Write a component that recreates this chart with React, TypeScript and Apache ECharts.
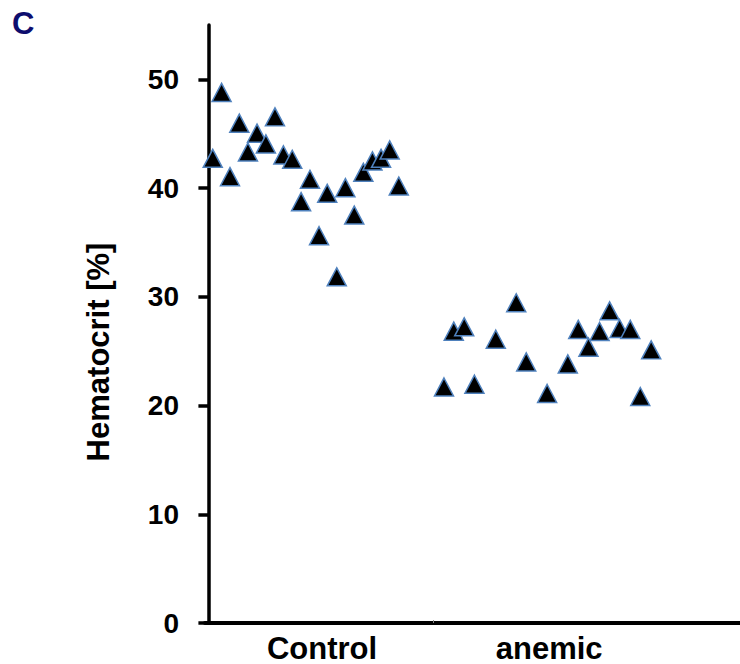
import React, { useEffect, useRef } from "react";
import * as echarts from "echarts";

const categories = ["Control", "anemic"];
const yTicks = [0, 10, 20, 30, 40, 50];
const yAxisTitle = "Hematocrit [%]";
const panelLabel = "C";

// x = position along the axis (category centers at 0.5 and 1.5), y = hematocrit [%]
const controlX = [0.019, 0.058, 0.095, 0.136, 0.174, 0.214, 0.253, 0.293, 0.330, 0.369, 0.408, 0.447, 0.487, 0.523, 0.565, 0.603, 0.642, 0.682, 0.722, 0.760, 0.798, 0.838];
const controlY = [42.74, 48.8, 41.05, 45.97, 43.32, 45.05, 44.06, 46.55, 43.05, 42.65, 38.75, 40.81, 35.62, 39.52, 31.84, 40.04, 37.52, 41.45, 42.5, 42.74, 43.51, 40.19];

const anemicX = [1.037, 1.080, 1.126, 1.171, 1.265, 1.355, 1.399, 1.491, 1.582, 1.628, 1.673, 1.722, 1.766, 1.810, 1.857, 1.901, 1.949];
const anemicY = [21.71, 26.84, 27.24, 21.96, 26.1, 29.45, 24.01, 21.11, 23.83, 27.0, 25.37, 26.81, 28.71, 27.09, 27.0, 20.83, 25.12];

const FONT = "'Liberation Sans', Arial, sans-serif";

export default function App() {
  const ref = useRef<HTMLDivElement>(null);

  useEffect(() => {
    if (!ref.current) return;
    const chart = echarts.init(ref.current, null, { renderer: "svg" });
    const pts = (xs: number[], ys: number[]) => xs.map((x, i) => [x, ys[i]]);
    const sym = {
      symbol: "triangle",
      symbolSize: [19, 18],
      itemStyle: { color: "#000000", borderColor: "#4f81bd", borderWidth: 1.5, opacity: 1 },
    };
    chart.setOption({
      animation: false,
      graphic: [
        {
          type: "text",
          left: 12,
          top: 8,
          style: { text: panelLabel, font: `bold 31px ${FONT}`, fill: "#0d0d6e" },
        },
        {
          type: "text",
          x: 98,
          y: 352,
          rotation: Math.PI / 2,
          style: {
            text: yAxisTitle,
            font: `bold 31px ${FONT}`,
            fill: "#000",
            align: "center",
            verticalAlign: "middle",
          },
        },
      ],
      grid: { left: 205, right: 0, top: 25, bottom: 41 },
      xAxis: {
        type: "value",
        min: -0.015,
        max: 2.34,
        splitLine: { show: false },
        axisLine: { show: true, lineStyle: { color: "#000", width: 4 } },
        axisTick: {
          show: true,
          customValues: [0.99],
          inside: true,
          length: 3,
          lineStyle: { color: "#888", width: 1 },
        },
        axisLabel: {
          customValues: [0.5, 1.5],
          formatter: (v: number) => categories[Math.floor(v)] ?? "",
          margin: 12,
          lineHeight: 26,
          fontFamily: FONT,
          fontSize: 31,
          fontWeight: "bold",
          color: "#000",
        },
      },
      yAxis: {
        type: "value",
        min: 0,
        max: 55,
        interval: 10,
        splitLine: { show: false },
        axisLine: { show: true, lineStyle: { color: "#000", width: 3.5 } },
        axisTick: { show: true, customValues: yTicks, length: 10, lineStyle: { color: "#000", width: 3.5 } },
        axisLabel: {
          customValues: yTicks,
          margin: 26,
          fontFamily: FONT,
          fontSize: 28,
          fontWeight: "bold",
          color: "#000",
        },
      },
      series: [
        { type: "scatter", name: categories[0], data: pts(controlX, controlY), ...sym },
        { type: "scatter", name: categories[1], data: pts(anemicX, anemicY), ...sym },
      ],
    });
    return () => chart.dispose();
  }, []);

  return <div ref={ref} style={{ width: 740, height: 664, position: "absolute", left: 0, top: 0 }} />;
}
